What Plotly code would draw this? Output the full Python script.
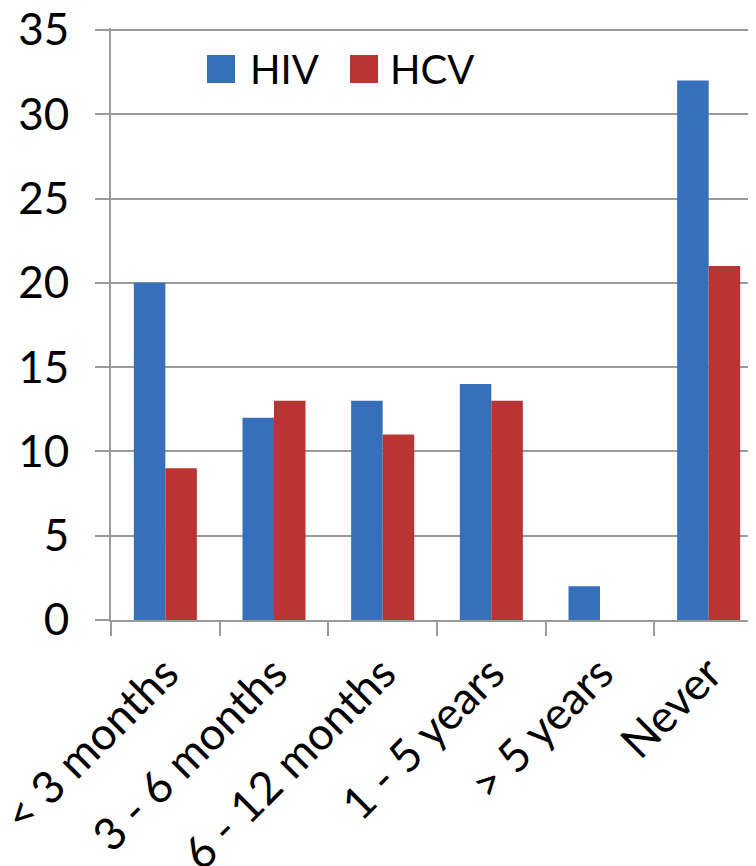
import plotly.graph_objects as go

categories = ["< 3 months", "3 - 6 months", "6 - 12 months", "1 - 5 years", "> 5 years", "Never"]
hiv = [20, 12, 13, 14, 2, 32]
hcv = [9, 13, 11, 13, 0, 21]
y_ticks = [0, 5, 10, 15, 20, 25, 30, 35]

FONT = "Lato"
BLUE = "#3670BA"
RED = "#B83533"
GRID = "#9A9A9A"

fig = go.Figure()
fig.add_trace(go.Bar(name="HIV", x=categories, y=hiv, marker=dict(color=BLUE, line=dict(width=0))))
fig.add_trace(go.Bar(name="HCV", x=categories, y=hcv, marker=dict(color=RED, line=dict(width=0))))

# page body has an 8px margin; plot area in the viewport: x 111..763, y 28..620
# (value 35 sits at y=30, 2px below the top so its gridline is not clipped)
OFF = 8
PL, PR, PT, PB = 111, 763, 28, 620
Y35 = 30
plot_w = PR - PL
plot_h = PB - PT
y_top = 35 * (PB - PT) / (PB - Y35)

fig.update_layout(
    width=756, height=866,
    margin=dict(l=PL - OFF, r=756 - (PR - OFF), t=PT - OFF, b=866 - (PB - OFF), pad=0, autoexpand=False),
    paper_bgcolor="white", plot_bgcolor="white",
    barmode="group", bargap=0.42, bargroupgap=0,
    showlegend=False,
    font=dict(family=FONT, size=40, color="black"),
    xaxis=dict(
        type="category", range=[-0.5, 5.5], automargin=False,
        showline=True, linecolor=GRID, linewidth=2,
        ticks="outside", ticklen=14, tickwidth=2, tickcolor=GRID,
        tickson="boundaries", tickangle=-45,
        tickfont=dict(family=FONT, size=45, color="black"),
        ticklabelstandoff=7, ticklabeloverflow="allow",
        showgrid=False, zeroline=False,
    ),
    yaxis=dict(
        range=[0, y_top], tickvals=y_ticks, automargin=False,
        showline=True, linecolor=GRID, linewidth=2,
        ticks="outside", ticklen=14, tickwidth=2, tickcolor=GRID,
        showgrid=True, gridcolor=GRID, gridwidth=1.5,
        zeroline=False,
        tickfont=dict(family=FONT, size=44, color="black"),
        ticklabelstandoff=17, ticklabeloverflow="allow",
    ),
)

# manual legend (large swatches like the original)
def px_x(px):
    return (px - PL) / plot_w

def px_y(py):
    return (PB - py) / plot_h

legend_items = [("HIV", BLUE, 207, 248), ("HCV", RED, 350, 388)]
for name, col, sx, tx in legend_items:
    fig.add_shape(type="rect", xref="paper", yref="paper",
                  x0=px_x(sx), x1=px_x(sx + 28), y0=px_y(83), y1=px_y(55),
                  fillcolor=col, line=dict(width=0))
    fig.add_annotation(xref="paper", yref="paper", x=px_x(tx), y=px_y(69),
                       text=name, showarrow=False, xanchor="left", yanchor="middle",
                       font=dict(family=FONT, size=40, color="black"))

fig.write_html("out.html")
